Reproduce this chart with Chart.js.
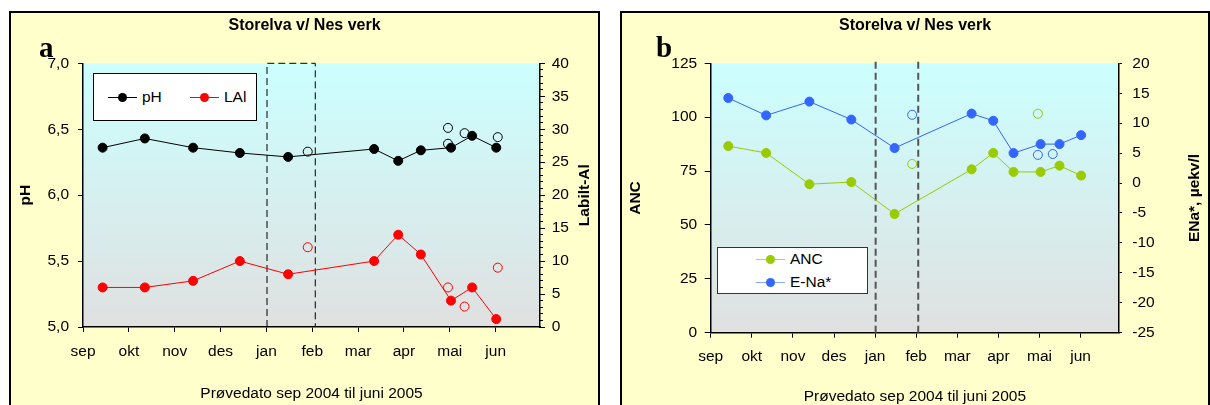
<!DOCTYPE html>
<html>
<head>
<meta charset="utf-8">
<script src="https://cdn.jsdelivr.net/npm/chart.js@4.4.1/dist/chart.umd.min.js"></script>
<style>
  body { margin: 0; background: #fff; width: 1210px; height: 405px; overflow: hidden; font-family: "Liberation Sans", Arial, sans-serif; }
  .panel { position: absolute; top: 13px; height: 392px; background: #FFFFCC; outline: 2px solid #000; }
  #panelA { left: 11px; width: 587px; }
  #panelB { left: 622px; width: 586px; }
  .panel canvas { position: absolute; left: 0; top: 0; }
  .legend { position: absolute; background: #fff; border: 1px solid #000; box-sizing: border-box; font-size: 15.5px; }
  .item { position: absolute; height: 18px; width: 80px; }
  .item .ln { position: absolute; top: 9px; left: 0; width: 29px; height: 1px; }
  .item .dot { position: absolute; top: 4.5px; left: 10px; width: 9px; height: 9px; border-radius: 50%; }
  .item .txt { position: absolute; left: 34px; top: 0; line-height: 18px; white-space: nowrap; color: #000; }
</style>
</head>
<body>
<div class="panel" id="panelA">
  <canvas id="chartA" width="587" height="392"></canvas>
  <div class="legend" style="left:82px; top:60px; width:164px; height:48px;">
    <div class="item" style="left:14px; top:14px;"><div class="ln" style="background:#000"></div><div class="dot" style="background:#000"></div><div class="txt">pH</div></div>
    <div class="item" style="left:96px; top:14px;"><div class="ln" style="background:#f00"></div><div class="dot" style="background:#f00"></div><div class="txt">LAl</div></div>
  </div>
</div>
<div class="panel" id="panelB">
  <canvas id="chartB" width="586" height="392"></canvas>
  <div class="legend" style="left:95px; top:234px; width:151px; height:47px; border-color:#333;">
    <div class="item" style="left:38px; top:2px;"><div class="ln" style="background:#b5d94c"></div><div class="dot" style="background:#99CC00"></div><div class="txt">ANC</div></div>
    <div class="item" style="left:38px; top:25px;"><div class="ln" style="background:#8fa8ff"></div><div class="dot" style="background:#3366FF"></div><div class="txt">E-Na*</div></div>
  </div>
</div>
<script>
// months on the x axis, each ~30.4 days wide, day 0 = 1 Sep 2004
const monthNames = ['sep', 'okt', 'nov', 'des', 'jan', 'feb', 'mar', 'apr', 'mai', 'jun'];
const monthLength = 30.4;

// regular samples (days after 1 Sep 2004)
const sampleDays = [13, 41, 73, 104, 136, 193, 209, 224, 244, 258, 274];
const pH = [6.36, 6.43, 6.36, 6.32, 6.29, 6.35, 6.26, 6.34, 6.36, 6.45, 6.36];
const lal = [6, 6, 7, 10, 8, 10, 14, 11, 4, 6, 1.2];
const anc = [86.6, 83.4, 68.9, 69.9, 55.1, 75.8, 83.4, 74.6, 74.6, 77.5, 72.9];
const eNa = [14.2, 11.3, 13.6, 10.6, 5.85, 11.6, 10.4, 5.0, 6.5, 6.5, 8.0];

// extra samples (open circles)
const extraPhDays = [149, 242, 242, 253, 275];
const extraPh = [6.33, 6.51, 6.39, 6.47, 6.44];
const extraLalDays = [149, 242, 253, 275];
const extraLal = [12.1, 6, 3.1, 9.0];
const extraAncDays = [149, 242];
const extraAnc = [78.3, 101.6];
const extraENaDays = [149, 242, 253];
const extraENa = [11.4, 4.7, 4.85];

// ice period (dashed lines)
const iceDays = [122, 154];

const titleText = 'Storelva v/ Nes verk';
const xTitle = 'Prøvedato sep 2004 til juni 2005';

const fam = "'Liberation Sans', Arial, sans-serif";
const tickFont = { family: fam, size: 15.5 };
const boldFont = { family: fam, size: 15.5, weight: 'bold' };

Chart.defaults.color = '#000';

const pts = (xs, ys) => xs.map((x, i) => ({ x: x, y: ys[i] }));

const bgPlugin = {
  id: 'panelBg',
  beforeDraw(chart, args, opts) {
    const { ctx, chartArea: a } = chart;
    const g = ctx.createLinearGradient(0, a.top, 0, a.bottom);
    g.addColorStop(0, '#CCFFFF');
    g.addColorStop(1, '#E0E0E0');
    ctx.save();
    ctx.fillStyle = g;
    ctx.fillRect(a.left, a.top, a.right - a.left, a.bottom - a.top);
    ctx.restore();
  },
  afterDraw(chart, args, opts) {
    const ctx = chart.ctx;
    ctx.save();
    ctx.font = "bold 29px 'Liberation Serif', 'Times New Roman', serif";
    ctx.fillStyle = '#000';
    ctx.textBaseline = 'alphabetic';
    ctx.fillText(opts.letter, opts.x, opts.y);
    // right axis title, read bottom to top like the left one
    const s = chart.scales.y2;
    ctx.translate(s.right - opts.rightOffset, (s.top + s.bottom) / 2);
    ctx.rotate(-Math.PI / 2);
    ctx.font = "bold 15.5px " + fam;
    ctx.textAlign = 'center';
    ctx.textBaseline = 'middle';
    ctx.fillText(opts.rightTitle, 0, 0);
    ctx.restore();
  }
};

function xScale(max, height, tickPad, titlePad) {
  return {
    type: 'linear', min: 0, max: max,
    afterBuildTicks: s => { s.ticks = monthNames.map((m, i) => ({ value: i * monthLength })); },
    afterFit: s => { s.height = height; },
    ticks: { callback: (v, i) => monthNames[i], padding: tickPad, font: tickFont, maxRotation: 0, autoSkip: false },
    grid: { drawOnChartArea: false, tickLength: 5, color: '#000' },
    border: { color: '#000', width: 1.5 },
    title: { display: true, text: xTitle, font: { ...tickFont, lineHeight: 1 }, padding: { top: 0, bottom: titlePad } }
  };
}

function yScale(pos, min, max, step, width, tickLen, tickPad, title, titlePad, fmt) {
  return {
    type: 'linear', position: pos, min: min, max: max,
    afterFit: s => { s.width = width; },
    ticks: { stepSize: step, padding: tickPad, font: tickFont, callback: fmt || (v => v) },
    grid: { drawOnChartArea: false, tickLength: tickLen, color: '#000' },
    border: { color: '#000', width: 1.5 },
    title: { display: !!title, text: title, font: boldFont, padding: { top: titlePad, bottom: 0 } }
  };
}

function titleOpts() {
  return { display: true, text: titleText, font: { family: fam, size: 16, weight: 'bold' }, padding: { top: 3.4, bottom: 27.7 } };
}

function dashed(xs, ys, axis, color, width) {
  return { data: pts(xs, ys), yAxisID: axis, borderColor: color, borderWidth: width, borderDash: [7, 4], pointRadius: 0, fill: false, clip: false };
}

function marks(xs, ys, axis, color, withLine) {
  return {
    data: pts(xs, ys), yAxisID: axis, showLine: withLine, borderColor: color, borderWidth: 1,
    pointRadius: 4.5, pointBorderWidth: 1,
    pointBackgroundColor: withLine ? color : 'transparent', pointBorderColor: color
  };
}

// panel a
new Chart(document.getElementById('chartA'), {
  type: 'line',
  data: {
    datasets: [
      marks(sampleDays, pH, 'y', '#000', true),
      marks(sampleDays, lal, 'y2', '#FF0000', true),
      marks(extraPhDays, extraPh, 'y', '#000', false),
      marks(extraLalDays, extraLal, 'y2', '#FF0000', false),
      dashed([iceDays[0], iceDays[0], iceDays[1], iceDays[1]], [5, 7, 7, 5], 'y', '#000', 1)
    ]
  },
  options: {
    responsive: false, animation: false,
    scales: {
      x: xScale(303, 78, 10.4, 4),
      y: yScale('left', 5, 7, 0.5, 72, 5, 9, 'pH', 5.7, v => v.toFixed(1).replace('.', ',')),
      y2: yScale('right', 0, 40, 5, 58, 5, 6.7, ''),
      y2minor: {
        type: 'linear', position: 'right', min: 0, max: 40, weight: -1,
        afterFit: s => { s.width = 0; },
        ticks: { stepSize: 1, display: false },
        grid: { drawOnChartArea: false, tickLength: 3, color: '#000' },
        border: { display: false }
      }
    },
    plugins: {
      legend: { display: false }, tooltip: { enabled: false },
      title: titleOpts(),
      panelBg: { letter: 'a', x: 28, y: 44, rightTitle: 'Labilt-Al', rightOffset: 13 }
    }
  },
  plugins: [bgPlugin]
});

// panel b
new Chart(document.getElementById('chartB'), {
  type: 'line',
  data: {
    datasets: [
      marks(sampleDays, anc, 'y', '#99CC00', true),
      marks(sampleDays, eNa, 'y2', '#3366FF', true),
      marks(extraAncDays, extraAnc, 'y', '#99CC00', false),
      marks(extraENaDays, extraENa, 'y2', '#3366FF', false),
      dashed([iceDays[0], iceDays[0]], [0, 127], 'y', '#555', 2),
      dashed([iceDays[1] - 0.5, iceDays[1] - 0.5], [0, 127], 'y', '#555', 2)
    ]
  },
  options: {
    responsive: false, animation: false,
    scales: {
      x: xScale(302, 72.3, 9.7, 0.5),
      y: yScale('left', 0, 125, 25, 88.7, 6, 7.5, 'ANC', 4.7),
      y2: yScale('right', -25, 20, 5, 89, 3, 10.3, '')
    },
    plugins: {
      legend: { display: false }, tooltip: { enabled: false },
      title: titleOpts(),
      panelBg: { letter: 'b', x: 34, y: 44, rightTitle: 'ENa*, µekv/l', rightOffset: 13 }
    }
  },
  plugins: [bgPlugin]
});
</script>
</body>
</html>
